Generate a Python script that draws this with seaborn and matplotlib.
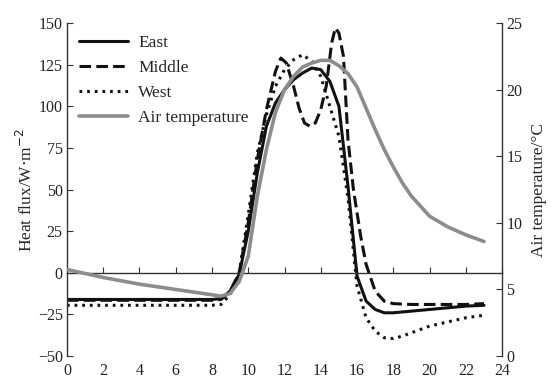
import numpy as np
import pandas as pd
import matplotlib
matplotlib.use("Agg")
import matplotlib.pyplot as plt
import seaborn as sns
from matplotlib.lines import Line2D

# heures et valeurs
hours_east = [0, 1, 2, 3, 4, 5, 6, 7, 8, 8.5, 9, 9.5, 10, 10.5, 11, 11.5, 12, 12.5, 13, 13.5,
              14, 14.5, 15, 15.5, 16, 16.5, 17, 17.5, 18, 19, 20, 21, 22, 23]
east = [-16, -16, -16, -16, -16, -16, -16, -16, -16, -15.5, -11, -1, 25, 60, 88, 102, 110, 116, 120, 123,
        122, 115, 100, 52, -2, -17, -22, -24, -24, -23, -22, -21, -20, -19.5]

hours_middle = [0, 1, 2, 3, 4, 5, 6, 7, 8, 8.5, 9, 9.5, 10, 10.5, 11, 11.5, 11.8, 12.1, 12.5, 12.8,
                13.1, 13.4, 13.7, 14, 14.3, 14.6, 14.8, 15, 15.25, 15.5, 15.8, 16.2, 16.5, 17,
                17.5, 18, 19, 20, 21, 22, 23]
middle = [-16.5, -16.5, -16.5, -16.5, -16.5, -16.5, -16.5, -16.5, -16.5, -16, -11, 0, 30, 68, 98, 121, 129, 126, 112, 99,
          90, 88, 90, 98, 112, 138, 147, 144, 130, 80, 50, 22, 5, -11,
          -17, -18.5, -19, -19, -19, -19, -18.5]

hours_west = [0, 1, 2, 3, 4, 5, 6, 7, 8, 8.5, 9, 9.5, 10, 10.5, 11, 11.5, 12, 12.5, 13, 13.5,
              14, 14.5, 15, 15.5, 16, 16.5, 17, 17.5, 18, 18.5, 19, 20, 21, 22, 23]
west = [-19.5, -19.5, -19.5, -19.5, -19.5, -19.5, -19.5, -19.5, -19.5, -19, -13, 0, 35, 72, 95, 112, 122, 128, 131, 127,
        118, 100, 82, 45, -8, -27, -35, -39, -39.5, -38, -36, -32, -29.5, -27, -25.5]

hours_air = [0, 1, 2, 3, 4, 5, 6, 7, 8, 8.5, 9, 9.5, 10, 10.5, 11, 11.5, 12, 12.5, 13, 13.5,
             14, 14.5, 15, 15.5, 16, 16.5, 17, 17.5, 18, 18.5, 19, 20, 21, 22, 23]
air_temp = [6.5, 6.2, 5.9, 5.65, 5.4, 5.2, 5.0, 4.8, 4.6, 4.5, 4.7, 5.6, 7.5, 12, 15.5, 18.3, 20.0, 21.0, 21.7, 22.0,
            22.2, 22.2, 21.8, 21.2, 20.2, 18.6, 17.0, 15.5, 14.2, 13.0, 12.0, 10.5, 9.7, 9.1, 8.6]

df_east = pd.DataFrame({"hour": hours_east, "flux": east})
df_middle = pd.DataFrame({"hour": hours_middle, "flux": middle})
df_west = pd.DataFrame({"hour": hours_west, "flux": west})
df_air = pd.DataFrame({"hour": hours_air, "temp": air_temp})

sns.set_style("ticks")
plt.rcParams["font.family"] = ["Liberation Serif", "DejaVu Serif"]
plt.rcParams["font.size"] = 11.5

fig = plt.figure(figsize=(5.53, 3.78), dpi=100)
ax = fig.add_axes([0.121, 0.058, 0.787, 0.881])

black = "#111111"
grey = "#8c8c8c"
ls_mid = (0, (3.8, 1.7))
ls_west = (0, (0.9, 1.6))

sns.lineplot(data=df_east, x="hour", y="flux", ax=ax, color=black, lw=2.2)
sns.lineplot(data=df_middle, x="hour", y="flux", ax=ax, color=black, lw=2.2, linestyle=ls_mid)
sns.lineplot(data=df_west, x="hour", y="flux", ax=ax, color=black, lw=2.2, linestyle=ls_west)

ax.set_xlim(0, 24)
ax.set_ylim(-50, 150)
ax.set_yticks(np.arange(-50, 151, 25))
ax.set_xticks(np.arange(0, 25, 2))
ax.spines["bottom"].set_position(("data", 0))
ax.spines["top"].set_visible(False)
ax.spines["right"].set_visible(False)
for s in ax.spines.values():
    s.set_linewidth(1.0)
    s.set_color("#333333")
ax.tick_params(axis="y", direction="in", length=4, pad=3, colors="#333333", labelcolor="#222222")
ax.tick_params(axis="x", direction="in", length=4, labelbottom=False, colors="#333333")
ax.set_xlabel("")
ax.set_ylabel("Heat flux/W$\\cdot$m$^{-2}$", fontsize=12.5, labelpad=1)

# étiquettes de l'axe x en bas
axb = ax.secondary_xaxis(0)
axb.set_xticks(np.arange(0, 25, 2))
axb.spines["bottom"].set_visible(False)
axb.tick_params(length=0, pad=5, labelcolor="#222222")

axt = ax.twinx()
sns.lineplot(data=df_air, x="hour", y="temp", ax=axt, color=grey, lw=2.6)
axt.set_ylim(0, 25)
axt.set_yticks(np.arange(0, 26, 5))
axt.spines["top"].set_visible(False)
axt.spines["left"].set_visible(False)
axt.spines["bottom"].set_visible(False)
axt.spines["right"].set_linewidth(1.0)
axt.spines["right"].set_color("#333333")
axt.tick_params(axis="y", direction="in", length=4, pad=3, colors="#333333", labelcolor="#222222")
axt.set_ylabel("Air temperature/°C", fontsize=12.5, labelpad=6)

handles = [
    Line2D([], [], color=black, lw=2.2),
    Line2D([], [], color=black, lw=2.2, linestyle=ls_mid),
    Line2D([], [], color=black, lw=2.2, linestyle=ls_west),
    Line2D([], [], color=grey, lw=2.6),
]
ax.legend(handles, ["East", "Middle", "West", "Air temperature"], loc="upper left",
          frameon=False, fontsize=12.5, handlelength=2.8, handletextpad=0.6, labelspacing=0.5,
          borderaxespad=0.3, bbox_to_anchor=(0.0, 1.0))

fig.savefig("out.png", dpi=100)
